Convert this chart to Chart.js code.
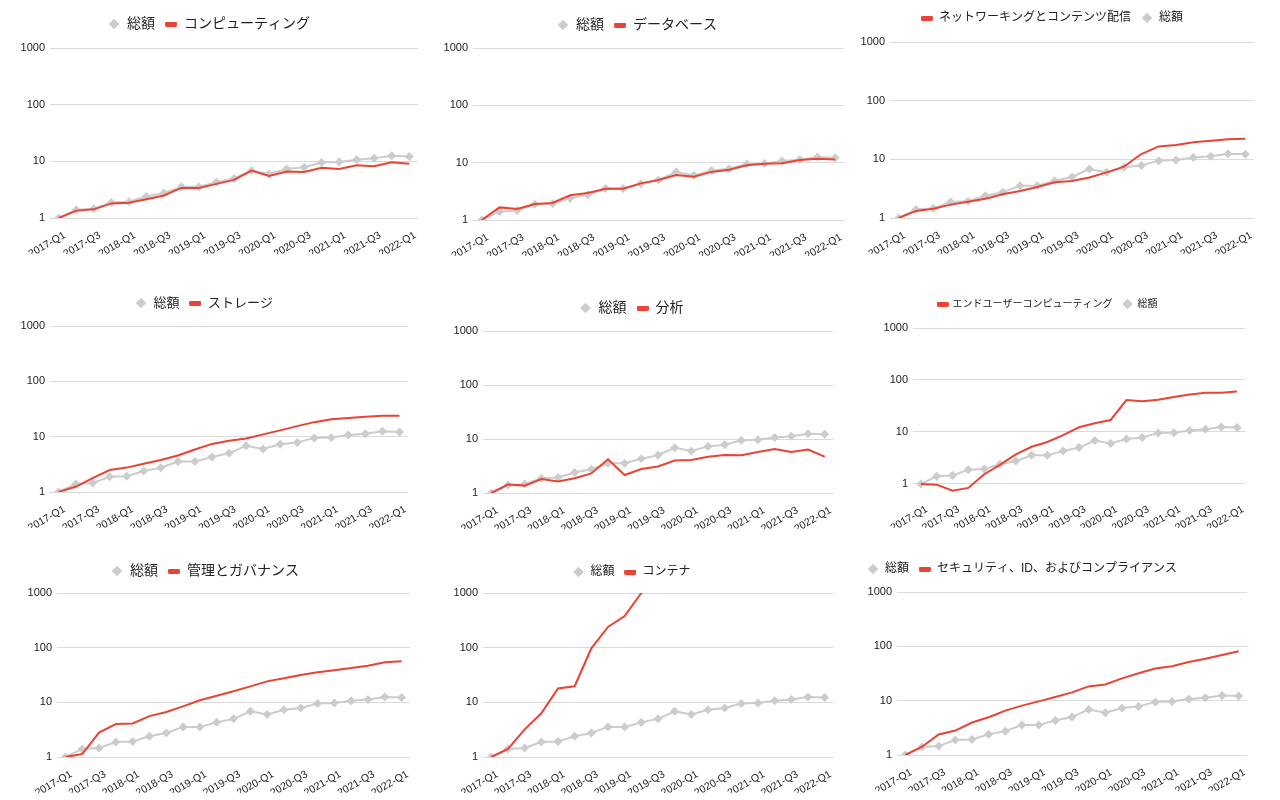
<!DOCTYPE html>
<html lang="ja">
<head>
<meta charset="utf-8">
<script src="https://cdn.jsdelivr.net/npm/chart.js@4.4.0/dist/chart.umd.min.js"></script>
<style>
  html, body { margin: 0; padding: 0; background: #fff; }
  body { width: 1280px; height: 800px; position: relative; overflow: hidden; }
  .cell { position: absolute; width: 430px; }
</style>
</head>
<body>
<script>
const quarters = [
  '2017-Q1', '2017-Q2', '2017-Q3', '2017-Q4',
  '2018-Q1', '2018-Q2', '2018-Q3', '2018-Q4',
  '2019-Q1', '2019-Q2', '2019-Q3', '2019-Q4',
  '2020-Q1', '2020-Q2', '2020-Q3', '2020-Q4',
  '2021-Q1', '2021-Q2', '2021-Q3', '2021-Q4',
  '2022-Q1',
];
const yTicks = [1, 10, 100, 1000];

const totalLabel = '総額';
const total = [1.0, 1.40, 1.46, 1.88, 1.93, 2.4, 2.75, 3.55, 3.55, 4.3, 5.0, 6.85, 6.0, 7.3, 7.85, 9.5, 9.7, 10.7, 11.3, 12.5, 12.2];

const computing = [1.0, 1.35, 1.42, 1.81, 1.86, 2.15, 2.5, 3.4, 3.4, 4.0, 4.7, 6.85, 5.5, 6.6, 6.5, 7.7, 7.3, 8.5, 8.2, 9.6, 9.1];
const database = [1.0, 1.66, 1.56, 1.9, 1.98, 2.7, 2.95, 3.5, 3.5, 4.35, 5.0, 6.1, 5.7, 6.9, 7.5, 9.0, 9.6, 9.8, 11.1, 11.7, 11.4];
const networking = [1.0, 1.32, 1.44, 1.69, 1.9, 2.13, 2.53, 2.88, 3.37, 4.05, 4.27, 4.9, 6.0, 7.5, 12.3, 16.6, 17.5, 19.5, 20.8, 21.9, 22.5];
const storage = [1.0, 1.24, 1.78, 2.5, 2.76, 3.25, 3.78, 4.58, 5.86, 7.4, 8.4, 9.3, 11.0, 13.0, 15.5, 18.3, 20.7, 21.8, 23.0, 24.0, 24.0];
const analytics = [1.0, 1.43, 1.37, 1.82, 1.64, 1.87, 2.3, 4.2, 2.15, 2.78, 3.1, 4.0, 4.1, 4.7, 5.05, 5.0, 5.75, 6.5, 5.75, 6.4, 4.7];
const endUser = [1.0, 0.97, 0.74, 0.84, 1.54, 2.33, 3.7, 5.2, 6.4, 8.7, 12.3, 14.7, 17.0, 41.0, 39.0, 41.5, 47.0, 52.6, 57.0, 57.0, 60.0];
const management = [1.0, 1.13, 2.79, 4.0, 4.1, 5.6, 6.65, 8.45, 10.9, 13.2, 15.9, 19.6, 24.2, 27.5, 31.6, 35.4, 38.5, 42.5, 46.9, 53.9, 56.3];
const containers = [1.0, 1.4, 3.2, 6.3, 17.9, 19.7, 97, 240, 378, 1000, 1600, 2300, 3000, 3800, 4600, 5400, 6200, 7000, 7800, 8600, 9300];
const security = [1.0, 1.42, 2.39, 2.82, 3.96, 4.95, 6.56, 8.1, 9.7, 11.7, 14.2, 18.3, 19.9, 25.7, 32.0, 39.0, 43.0, 51.6, 59.0, 69.0, 81.0];

const panels = [
  { label: 'コンピューティング', values: computing, redFirst: false },
  { label: 'データベース', values: database, redFirst: false },
  { label: 'ネットワーキングとコンテンツ配信', values: networking, redFirst: true },
  { label: 'ストレージ', values: storage, redFirst: false },
  { label: '分析', values: analytics, redFirst: false },
  { label: 'エンドユーザーコンピューティング', values: endUser, redFirst: true, min: 0.7 },
  { label: '管理とガバナンス', values: management, redFirst: false },
  { label: 'コンテナ', values: containers, redFirst: false },
  { label: 'セキュリティ、ID、およびコンプライアンス', values: security, redFirst: false },
];

// where each panel sits: cell origin, legend centre line and plot area (cell coords)
const layoutInfo = [
  { x: 0,   y: 0,   legendY: 24, fs: 14, top: 48, bottom: 218, left: 50, right: 418 },
  { x: 430, y: 0,   legendY: 25, fs: 14, top: 48, bottom: 220, left: 43, right: 414 },
  { x: 850, y: 0,   legendY: 18, fs: 12, top: 42, bottom: 218, left: 40, right: 404 },
  { x: 0,   y: 280, legendY: 23, fs: 13, top: 46, bottom: 212, left: 50, right: 408 },
  { x: 430, y: 280, legendY: 28, fs: 14, top: 51, bottom: 213, left: 53, right: 403 },
  { x: 850, y: 280, legendY: 24, fs: 10, top: 48, bottom: 212, left: 63, right: 395 },
  { x: 0,   y: 548, legendY: 23, fs: 14, top: 45, bottom: 209, left: 57, right: 410 },
  { x: 430, y: 548, legendY: 24, fs: 12, top: 45, bottom: 209, left: 53, right: 403 },
  { x: 850, y: 548, legendY: 21, fs: 12, top: 44, bottom: 207, left: 47, right: 397, align: 'start', padLeft: 7 },
];

const RED = '#ea4335';
const GRAY = '#cccccc';
const FONT = '"Liberation Sans", Arial, "Noto Sans CJK JP", sans-serif';
const CELL_W = 430;
const X_AXIS_H = 36;
const LEGEND_PAD = 10;

// short thick bar used as the legend marker of the red series
const redMarker = document.createElement('canvas');
redMarker.width = 12;
redMarker.height = 5;
(function () {
  const c = redMarker.getContext('2d');
  c.fillStyle = RED;
  c.beginPath();
  c.roundRect(0, 0, 12, 5, 1.5);
  c.fill();
})();

Chart.defaults.font.family = FONT;
Chart.defaults.color = '#222';

panels.forEach((p, i) => {
  const L = layoutInfo[i];
  const cell = document.createElement('div');
  cell.className = 'cell';
  cell.style.left = L.x + 'px';
  cell.style.top = L.y + 'px';
  cell.style.height = (L.bottom + X_AXIS_H) + 'px';
  const canvas = document.createElement('canvas');
  cell.appendChild(canvas);
  document.body.appendChild(cell);

  const padLeft = L.padLeft || 0;
  const padTop = L.legendY - LEGEND_PAD - L.fs / 2;
  const spacer = L.top - L.legendY - L.fs / 2 - 10;

  const totalSet = {
    label: totalLabel,
    data: total,
    borderColor: GRAY,
    backgroundColor: GRAY,
    borderWidth: 2,
    pointStyle: 'rectRot',
    pointRadius: 4.5,
    pointBorderWidth: 0,
    order: 1,
  };
  const redSet = {
    label: p.label,
    data: p.values,
    borderColor: RED,
    backgroundColor: RED,
    borderWidth: 2,
    pointStyle: redMarker,
    pointRadius: 0,
    order: 0,
  };

  new Chart(canvas, {
    type: 'line',
    data: {
      labels: quarters,
      datasets: p.redFirst ? [redSet, totalSet] : [totalSet, redSet],
    },
    options: {
      responsive: true,
      maintainAspectRatio: false,
      animation: false,
      layout: { padding: { top: padTop, left: padLeft, right: CELL_W - L.right, bottom: 0 } },
      plugins: {
        legend: {
          position: 'top',
          align: L.align || 'center',
          labels: {
            usePointStyle: true,
            boxWidth: 12,
            boxHeight: 7.5,
            padding: LEGEND_PAD,
            color: '#222',
            font: { size: L.fs },
            sort: (a, b) => a.datasetIndex - b.datasetIndex,
          },
        },
        // empty title used only as a gap between legend and plot
        title: { display: true, text: '', weight: 500, padding: 0, font: { size: spacer, lineHeight: 1 } },
        tooltip: { enabled: false },
      },
      scales: {
        x: {
          offset: true,
          grid: { display: false },
          border: { display: false },
          ticks: {
            autoSkip: false,
            maxRotation: 30,
            minRotation: 30,
            padding: 3,
            labelOffset: 6,
            font: { size: 10.5 },
            color: '#222',
            callback: (v, idx) => (idx % 2 === 0 ? quarters[idx] : ''),
          },
          afterFit: (s) => { s.height = X_AXIS_H; },
        },
        y: {
          type: 'logarithmic',
          min: p.min || 1,
          max: 1000,
          grid: { color: '#dadada', drawTicks: false },
          border: { display: false },
          ticks: { padding: 5, font: { size: 11 }, color: '#222', callback: (v) => String(v) },
          afterBuildTicks: (s) => { s.ticks = yTicks.map((v) => ({ value: v })); },
          afterFit: (s) => { s.width = L.left - padLeft; },
        },
      },
    },
  });
});
</script>
</body>
</html>
